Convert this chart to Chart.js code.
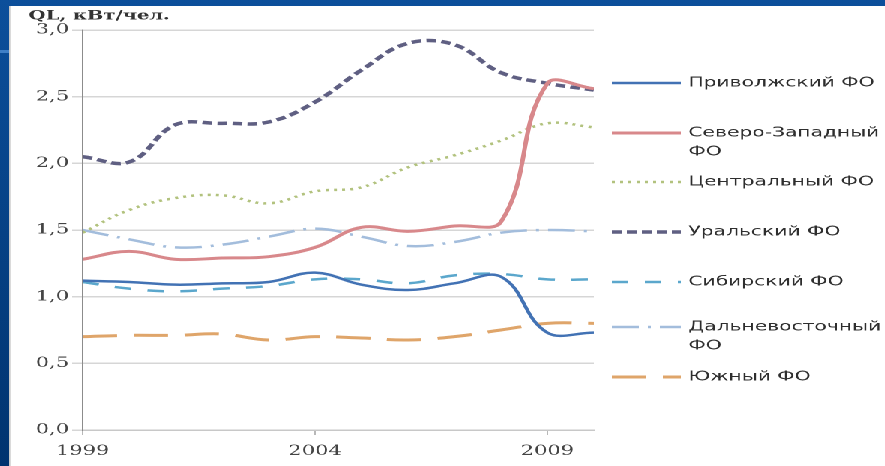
<!DOCTYPE html>
<html>
<head>
<meta charset="utf-8">
<script src="https://cdn.jsdelivr.net/npm/chart.js@4.4.1/dist/chart.umd.min.js"></script>
<style>
  html, body { margin: 0; padding: 0; }
  body {
    width: 885px; height: 466px; overflow: hidden; position: relative;
    background: linear-gradient(to bottom, #0c4f9b, #00336f);
  }
  #stripe { position: absolute; left: 0; top: 50px; width: 9px; height: 3px; background: #3f7fc6; }
  #panel {
    position: absolute; left: 9px; top: 6px;
    width: 584px; height: 460px; background: #fff;
    border-left: 1px solid #c9c9c9; box-sizing: border-box;
    transform: scaleX(1.5); transform-origin: 0 0;
  }
</style>
</head>
<body>
<div id="stripe"></div>
<div id="panel"><canvas id="chart"></canvas></div>
<script>
// Удельная мощность по федеральным округам, кВт/чел.
const years = [1999, 2000, 2001, 2002, 2003, 2004, 2005, 2006, 2007, 2008, 2009, 2010];
const xTickYears = [1999, 2004, 2009];
const yTickValues = [0, 0.5, 1, 1.5, 2, 2.5, 3];

const privolzhsky    = [1.12, 1.11, 1.09, 1.10, 1.11, 1.18, 1.09, 1.05, 1.10, 1.15, 0.73, 0.73];
const severoZapadny  = [1.28, 1.34, 1.28, 1.29, 1.30, 1.37, 1.52, 1.49, 1.53, 1.56, 2.60, 2.56];
const centralny      = [1.48, 1.65, 1.74, 1.76, 1.70, 1.79, 1.82, 1.97, 2.06, 2.17, 2.30, 2.27];
const uralsky        = [2.05, 2.01, 2.29, 2.30, 2.31, 2.46, 2.70, 2.90, 2.89, 2.68, 2.60, 2.55];
const sibirsky       = [1.11, 1.06, 1.04, 1.06, 1.08, 1.13, 1.13, 1.10, 1.16, 1.17, 1.13, 1.13];
const dalnevostochny = [1.50, 1.43, 1.37, 1.39, 1.45, 1.51, 1.45, 1.38, 1.41, 1.48, 1.50, 1.49];
const yuzhny         = [0.70, 0.71, 0.71, 0.72, 0.675, 0.70, 0.69, 0.675, 0.70, 0.75, 0.80, 0.80];

const seriesNames = [
  ['Приволжский ФО'],
  ['Северо-Западный', 'ФО'],
  ['Центральный ФО'],
  ['Уральский ФО'],
  ['Сибирский ФО'],
  ['Дальневосточный', 'ФО'],
  ['Южный ФО']
];

const toPoints = vals => vals.map((v, i) => ({ x: years[i], y: v }));

function series(i, vals, color, width, dash) {
  return {
    label: seriesNames[i],
    data: toPoints(vals),
    borderColor: color,
    borderWidth: width,
    borderDash: dash,
    fill: false,
    pointRadius: 0,
    tension: 0.4
  };
}

// подписи справа от графика
const legendRows = [77, 127, 176, 226, 276, 321, 371];
const sideLegend = {
  id: 'sideLegend',
  afterDraw(chart) {
    const ctx = chart.ctx;
    chart.data.datasets.forEach((ds, i) => {
      const y = legendRows[i];
      ctx.save();
      ctx.strokeStyle = ds.borderColor;
      ctx.lineWidth = ds.borderWidth;
      ctx.setLineDash(ds.borderDash || []);
      ctx.beginPath();
      ctx.moveTo(401, y);
      ctx.lineTo(447, y);
      ctx.stroke();
      ctx.setLineDash([]);
      ctx.fillStyle = '#2e2e2e';
      ctx.font = '13.5px "DejaVu Sans"';
      ctx.textBaseline = 'middle';
      ds.label.forEach((line, k) => ctx.fillText(line, 452, y + k * 19));
      ctx.restore();
    });
  }
};

const axisTitle = {
  id: 'axisTitle',
  afterDraw(chart) {
    const ctx = chart.ctx;
    ctx.save();
    ctx.fillStyle = '#333';
    ctx.font = 'bold 13px "DejaVu Serif"';
    ctx.textBaseline = 'middle';
    ctx.fillText('QL, кВт/чел.', 12, 10);
    ctx.restore();
  }
};

new Chart(document.getElementById('chart'), {
  type: 'line',
  data: {
    datasets: [
      series(0, privolzhsky, '#4272b4', 2.5, []),
      series(1, severoZapadny, '#d8888b', 3, []),
      series(2, centralny, '#b2c27e', 2.5, [2, 3.5]),
      series(3, uralsky, '#5f5f82', 3.5, [6.5, 3.5]),
      series(4, sibirsky, '#5ba7cc', 2.5, [11, 11]),
      series(5, dalnevostochny, '#a3bddc', 2.5, [18, 6, 2, 6]),
      series(6, yuzhny, '#dfa56a', 3, [23, 11])
    ]
  },
  options: {
    responsive: true,
    maintainAspectRatio: false,
    devicePixelRatio: 2,
    animation: false,
    layout: { padding: { top: 24, right: 194, left: 0, bottom: 0 } },
    plugins: { legend: { display: false }, tooltip: { enabled: false } },
    scales: {
      x: {
        type: 'linear',
        min: years[0],
        max: years[years.length - 1],
        afterBuildTicks: s => { s.ticks = xTickYears.map(v => ({ value: v })); },
        afterFit: s => { s.height = 36; },
        grid: { drawOnChartArea: false, tickLength: 5, color: '#b8b8b8' },
        border: { color: '#c8c8c8', width: 1.5 },
        ticks: {
          padding: 8,
          color: '#444',
          font: { family: 'DejaVu Serif', size: 14 },
          callback: v => String(v)
        }
      },
      y: {
        min: 0,
        max: 3,
        afterBuildTicks: s => { s.ticks = yTickValues.map(v => ({ value: v })); },
        afterFit: s => { s.width = 48; },
        grid: { color: '#d6d6d6', lineWidth: 1.5, tickLength: 7 },
        border: { color: '#8c8c8c', width: 1 },
        ticks: {
          padding: 2,
          color: '#444',
          font: { family: 'DejaVu Serif', size: 14 },
          callback: v => v.toFixed(1).replace('.', ',')
        }
      }
    }
  },
  plugins: [sideLegend, axisTitle]
});
</script>
</body>
</html>
